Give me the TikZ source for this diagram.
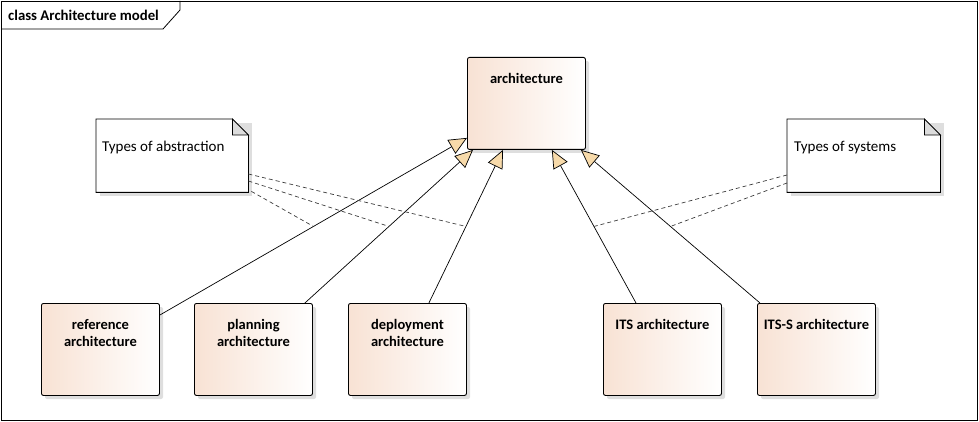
\documentclass[tikz,border=0pt]{standalone}
\usepackage{fontspec}
\setmainfont{Carlito}
\usetikzlibrary{arrows.meta,calc}
\definecolor{peach}{RGB}{248,226,212}
\definecolor{arrowtan}{RGB}{247,218,170}
\definecolor{shadowgray}{RGB}{222,222,222}
\definecolor{eargray}{RGB}{220,220,220}
\definecolor{dashgray}{RGB}{60,60,60}
\tikzset{
  clsbox/.style={draw=black, line width=0.9pt, rounded corners=2pt, left color=peach, right color=white, shading angle=90, anchor=north west, inner sep=0pt},
  clsshadow/.style={fill=shadowgray, rounded corners=2pt},
  clstext/.style={font=\bfseries\fontsize{14.5}{17.5}\selectfont, align=center, anchor=north, inner sep=0pt},
  notetext/.style={font=\fontsize{15}{17}\selectfont, anchor=west, inner sep=0pt},
  gen/.style={draw=black, line width=0.7pt, -{Triangle[length=18pt,width=16pt,fill=arrowtan,line width=0.7pt]}},
  notelink/.style={draw=dashgray, line width=0.7pt, dash pattern=on 4pt off 3pt},
  hidden/.style={anchor=north west, inner sep=0pt, draw=none},
}
\begin{document}
\begin{tikzpicture}[x=1pt,y=-1pt]
\useasboundingbox (0,0) rectangle (979,422);
% frame
\draw[line width=0.8pt] (1,1) rectangle (977,420);
\draw[line width=0.8pt] (1,29) -- (163,29) -- (180,10) -- (180,1);
\node[anchor=west, inner sep=0pt, font=\bfseries\fontsize{14.8}{17}\selectfont] (title) at (8,15) {class Architecture model};

% shadows
\foreach \x/\y/\w/\h in {467/57/118/92, 41/303/118/92, 194/303/118/92, 348/303/118/92, 603/303/118/92, 757/303/118/92}{
  \fill[clsshadow] (\x+4,\y+4) rectangle (\x+\w+4,\y+\h+4);
}
\fill[shadowgray] (100,123) rectangle (252,196);
\fill[shadowgray] (791,123) rectangle (944,196);

% classes
\node[clsbox, minimum width=118pt, minimum height=92pt] (arch) at (467,57) {};
\node[clstext] (archt) at ([yshift=-16pt]arch.north) {architecture};
\node[clsbox, minimum width=118pt, minimum height=92pt] (ref) at (41,303) {};
\node[clstext] (reft) at ([yshift=-16pt]ref.north) {reference\\architecture};
\node[clsbox, minimum width=118pt, minimum height=92pt] (plan) at (194,303) {};
\node[clstext] (plant) at ([yshift=-16pt]plan.north) {planning\\architecture};
\node[clsbox, minimum width=118pt, minimum height=92pt] (dep) at (348,303) {};
\node[clstext] (dept) at ([yshift=-16pt]dep.north) {deployment\\architecture};
\node[clsbox, minimum width=118pt, minimum height=92pt] (its) at (603,303) {};
\node[clstext] (itst) at ([yshift=-16pt]its.north) {ITS architecture};
\node[clsbox, minimum width=118pt, minimum height=92pt] (itss) at (757,303) {};
\node[clstext] (itsst) at ([yshift=-16pt]itss.north) {ITS-S architecture};

% notes
\node[hidden, minimum width=152pt, minimum height=73pt] (n1) at (96,119) {};
\draw[line width=0.8pt, fill=white] (n1.north west) -- ([xshift=-16pt]n1.north east) -- ([yshift=-16pt]n1.north east) -- (n1.south east) -- (n1.south west) -- cycle;
\draw[line width=0.8pt, fill=eargray] ([xshift=-16pt]n1.north east) -- ([xshift=-16pt,yshift=-16pt]n1.north east) -- ([yshift=-16pt]n1.north east) -- cycle;
\node[notetext] (n1t) at (102,148) {Types of abstraction};

\node[hidden, minimum width=153pt, minimum height=73pt] (n2) at (787,119) {};
\draw[line width=0.8pt, fill=white] (n2.north west) -- ([xshift=-16pt]n2.north east) -- ([yshift=-16pt]n2.north east) -- (n2.south east) -- (n2.south west) -- cycle;
\draw[line width=0.8pt, fill=eargray] ([xshift=-16pt]n2.north east) -- ([xshift=-16pt,yshift=-16pt]n2.north east) -- ([yshift=-16pt]n2.north east) -- cycle;
\node[notetext] (n2t) at (794,148) {Types of systems};

% generalizations
\draw[gen] ([yshift=-12pt]ref.north east) -- coordinate[pos=0.5] (m1) ([yshift=12pt]arch.south west);
\draw[gen] ([xshift=-8pt]plan.north east) -- coordinate[pos=0.5] (m2) ([xshift=6pt]arch.south west);
\draw[gen] ([xshift=-38pt]dep.north east) -- coordinate[pos=0.5] (m3) ([xshift=36pt]arch.south west);
\draw[gen] ([xshift=33pt]its.north west) -- coordinate[pos=0.5] (m4) ([xshift=-34pt]arch.south east);
\draw[gen] ([xshift=3pt]itss.north west) -- coordinate[pos=0.5] (m5) ([xshift=-5pt]arch.south east);

% note links
\draw[notelink] ([yshift=-55pt]n1.north east) -- (m3);
\draw[notelink] ([yshift=-62pt]n1.north east) -- (m2);
\draw[notelink] ([xshift=3pt,yshift=1pt]n1.south east) -- (m1);
\draw[notelink] ([yshift=-56pt]n2.north west) -- (m4);
\draw[notelink] ([yshift=-64pt]n2.north west) -- (m5);
\end{tikzpicture}
\end{document}
